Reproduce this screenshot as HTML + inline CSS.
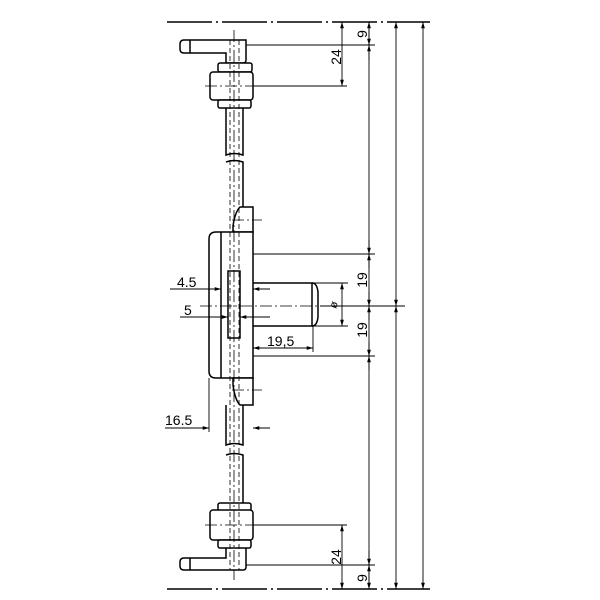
<!DOCTYPE html>
<html><head><style>html,body{margin:0;padding:0;background:#fff}svg{display:block}text{font-family:"Liberation Sans",sans-serif;font-size:14px;fill:#000}</style></head>
<body>
<svg width="600" height="600" viewBox="0 0 600 600" xmlns="http://www.w3.org/2000/svg">
<defs>
<marker id="a" viewBox="0 0 10 10" refX="10" refY="5" markerWidth="7" markerHeight="7" orient="auto-start-reverse"><path d="M0,2 L10,5 L0,8 z" fill="#000"/></marker>
</defs>
<g stroke="#000" fill="none">
<line x1="167" y1="22" x2="430" y2="22" stroke-width="1.4" stroke-dasharray="45,4,2,4"/>
<line x1="167" y1="589" x2="430" y2="589" stroke-width="1.4" stroke-dasharray="45,4,2,4"/>

<g stroke-width="1.5">
<path d="M184,40 H246 V60 Q246,63 243,63 H226 V53 H184 Q180,53 180,49 V44 Q180,40 184,40Z" fill="#fff"/>
<line x1="190" y1="40" x2="190" y2="53"/>
<rect x="218" y="63" width="34" height="9" rx="2" fill="#fff"/>
<rect x="210" y="72" width="43" height="28" rx="3" fill="#fff"/>
<rect x="218" y="100" width="33" height="8" rx="2" fill="#fff"/>
<path d="M226,108 V155 Q234,152 243,155 V108"/>
<path d="M226,162 Q234,159 243,162 V232"/>
<path d="M240,207 H253 V232 H233 L233,226 Q235,212 240,207Z" fill="#fff"/>
<path d="M216,232 H253 V378 H216 Q209,378 209,371 V239 Q209,232 216,232Z" fill="#fff"/>
<line x1="221" y1="232" x2="221" y2="378"/>
<path d="M233,378 H253 V405 H240 Q235,400 233,385Z" fill="#fff"/>
<rect x="228" y="271" width="12" height="67" fill="#fff"/>
<path d="M253,283 H312 V326 H253"/>
<path d="M312,283 Q317,283 318,292 V317 Q317,326 312,326"/>
<path d="M226,405 V445 Q234,442 243,445 V405"/>
<path d="M226,455 Q234,452 243,455 V503"/>
<rect x="218" y="503" width="33" height="8" rx="2" fill="#fff"/>
<rect x="210" y="510" width="43" height="30" rx="3" fill="#fff"/>
<rect x="218" y="540" width="33" height="8" rx="2" fill="#fff"/>
<path d="M226,548 V558 H184 Q180,558 180,562 V566 Q180,570 184,570 H243 Q246,570 246,567 V548"/>
<line x1="190" y1="558" x2="190" y2="570"/>
</g>
<g stroke-width="0.8" stroke-dasharray="5,3">
<line x1="230" y1="40" x2="230" y2="570"/>
<line x1="239" y1="40" x2="239" y2="570"/>
</g>
<g stroke-width="0.8" stroke-dasharray="12,3,2,3">
<line x1="234" y1="30" x2="234" y2="580"/>
<line x1="205" y1="86" x2="258" y2="86"/>
<line x1="205" y1="525" x2="258" y2="525"/>
<line x1="200" y1="306" x2="330" y2="306"/>
<line x1="232" y1="220" x2="262" y2="220"/>
<line x1="232" y1="390" x2="262" y2="390"/>
</g>
<g stroke-width="0.9">
<line x1="246" y1="45" x2="375" y2="45"/>
<line x1="253" y1="86" x2="347" y2="86"/>
<line x1="253" y1="254" x2="375" y2="254"/>
<line x1="253" y1="356" x2="375" y2="356"/>
<line x1="320" y1="306" x2="405" y2="306"/>
<line x1="312" y1="283" x2="348" y2="283"/>
<line x1="312" y1="326" x2="348" y2="326"/>
<line x1="253" y1="525" x2="347" y2="525"/>
<line x1="246" y1="565" x2="375" y2="565"/>
<line x1="313" y1="326" x2="313" y2="352"/>
<line x1="209" y1="378" x2="209" y2="432"/>
<line x1="342" y1="22" x2="342" y2="86" marker-start="url(#a)" marker-end="url(#a)"/>
<line x1="342" y1="525" x2="342" y2="589" marker-start="url(#a)" marker-end="url(#a)"/>
<line x1="342" y1="283" x2="342" y2="326" marker-start="url(#a)" marker-end="url(#a)"/>
<line x1="369" y1="22" x2="369" y2="589"/>
<line x1="369" y1="30" x2="369" y2="45" marker-end="url(#a)"/>
<line x1="369" y1="60" x2="369" y2="45" marker-end="url(#a)"/>
<line x1="369" y1="240" x2="369" y2="254" marker-end="url(#a)"/>
<line x1="369" y1="268" x2="369" y2="254" marker-end="url(#a)"/>
<line x1="369" y1="292" x2="369" y2="306" marker-end="url(#a)"/>
<line x1="369" y1="320" x2="369" y2="306" marker-end="url(#a)"/>
<line x1="369" y1="342" x2="369" y2="356" marker-end="url(#a)"/>
<line x1="369" y1="370" x2="369" y2="356" marker-end="url(#a)"/>
<line x1="369" y1="551" x2="369" y2="565" marker-end="url(#a)"/>
<line x1="369" y1="579" x2="369" y2="565" marker-end="url(#a)"/>
<line x1="369" y1="575" x2="369" y2="589" marker-end="url(#a)"/>
<line x1="369" y1="36" x2="369" y2="22" marker-end="url(#a)"/>
<line x1="396" y1="22" x2="396" y2="306" marker-start="url(#a)" marker-end="url(#a)"/>
<line x1="396" y1="306" x2="396" y2="589" marker-start="url(#a)" marker-end="url(#a)"/>
<line x1="423" y1="22" x2="423" y2="589" marker-start="url(#a)" marker-end="url(#a)"/>
<line x1="253" y1="348" x2="313" y2="348" marker-start="url(#a)" marker-end="url(#a)"/>
<line x1="170" y1="289" x2="221" y2="289" marker-end="url(#a)"/>
<line x1="270" y1="289" x2="253" y2="289" marker-end="url(#a)"/>
<line x1="180" y1="317" x2="228" y2="317" marker-end="url(#a)"/>
<line x1="270" y1="317" x2="240" y2="317" marker-end="url(#a)"/>
<line x1="165" y1="428" x2="209" y2="428" marker-end="url(#a)"/>
<line x1="270" y1="428" x2="253" y2="428" marker-end="url(#a)"/>
</g>
</g>
<g>
<text transform="translate(341,57) rotate(-90)" text-anchor="middle">24</text>
<text transform="translate(341,557) rotate(-90)" text-anchor="middle">24</text>
<text transform="translate(367,34) rotate(-90)" text-anchor="middle">9</text>
<text transform="translate(367,578) rotate(-90)" text-anchor="middle">9</text>
<text transform="translate(367,280) rotate(-90)" text-anchor="middle">19</text>
<text transform="translate(367,330) rotate(-90)" text-anchor="middle">19</text>
<text transform="translate(337,306) rotate(-70)" text-anchor="middle" style="font-size:11px">ø</text>
<text x="267" y="346">19,5</text>
<text x="177" y="287">4.5</text>
<text x="184" y="315">5</text>
<text x="165" y="425">16.5</text>
</g>
</svg>
</body></html>
